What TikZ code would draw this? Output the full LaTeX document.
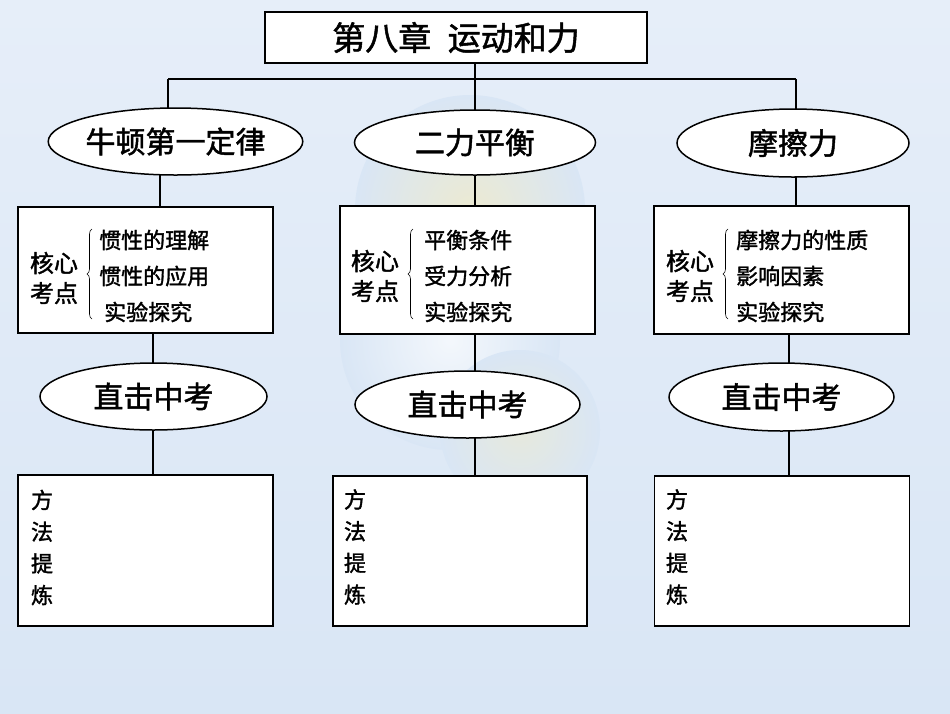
\documentclass[tikz,border=0pt]{standalone}
\usepackage{fontspec}
\setmainfont{Noto Sans CJK SC}[AutoFakeBold=1.5]
\usetikzlibrary{shapes.geometric,decorations.pathreplacing}
\definecolor{bgblue}{HTML}{D9E6F5}
\definecolor{bglight}{HTML}{E6EEF9}
\definecolor{flower}{HTML}{ECEAD2}
\pgfdeclarelayer{bg}
\pgfdeclarelayer{lines}
\pgfsetlayers{bg,lines,main}
\begin{document}
\begin{tikzpicture}[x=1pt,y=-1pt,
  box/.style={draw=black,fill=white,line width=1.5pt,rectangle,inner sep=0pt},
  oval/.style={draw=black,fill=white,line width=1.5pt,ellipse,inner sep=0pt,font=\fontsize{30}{30}\selectfont\bfseries},
  conn/.style={draw=black,line width=1.5pt},
  keytxt/.style={align=center,inner sep=0pt,font=\fontsize{24}{30}\selectfont\bfseries},
  itemtxt/.style={anchor=west,inner sep=0pt,font=\fontsize{22}{22}\selectfont\bfseries},
  methtxt/.style={align=center,inner sep=0pt,font=\fontsize{22}{31.7}\selectfont\bfseries},
  bracestyle/.style={draw=black,line width=0.6pt,decorate,decoration={brace,amplitude=5pt}}
]
% background
\begin{pgfonlayer}{bg}
\shade[top color=bglight,bottom color=bgblue] (0,0) rectangle (950,713);
\shade[inner color=flower,outer color=bgblue] (470,210) circle (115);
\shade[inner color=white!70!bgblue,outer color=bgblue] (450,340) circle (110);
\shade[inner color=flower!70!bgblue,outer color=bgblue] (520,430) circle (80);
\end{pgfonlayer}

% nodes
\node[box,minimum width=382,minimum height=51,font=\fontsize{33}{33}\selectfont\bfseries] (title) at (456,37.5) {第八章\hspace{0.5em}运动和力};

\node[oval,minimum width=225,minimum height=67] (e1) at (175.5,141.5) {牛顿第一定律};
\node[oval,minimum width=241,minimum height=65] (e2) at (475,142.5) {二力平衡};
\node[oval,minimum width=232,minimum height=68] (e3) at (793,143) {摩擦力};

\node[box,minimum width=255,minimum height=126] (b1) at (145.5,270) {};
\node[box,minimum width=255,minimum height=128] (b2) at (467.5,270) {};
\node[box,minimum width=255,minimum height=128] (b3) at (781.5,270) {};

\node[oval,minimum width=227,minimum height=67] (f1) at (153.5,396.5) {直击中考};
\node[oval,minimum width=225,minimum height=67] (f2) at (467.5,404.5) {直击中考};
\node[oval,minimum width=225,minimum height=68] (f3) at (781.5,397) {直击中考};

\node[box,minimum width=255,minimum height=151] (g1) at (145.5,550.5) {};
\node[box,minimum width=254,minimum height=150] (g2) at (460,551) {};
\node[box,minimum width=255,minimum height=150] (g3) at (782,551) {};

% box 1 contents
\node[keytxt] (k1) at (54,278) {核心\\考点};
\node[itemtxt] (i11) at (99,240) {惯性的理解};
\node[itemtxt] (i12) at (99,276) {惯性的应用};
\node[itemtxt] (i13) at (104,312) {实验探究};
\draw[bracestyle] (92,319) -- (92,229);
% box 2 contents
\node[keytxt] (k2) at (375,276) {核心\\考点};
\node[itemtxt] (i21) at (424,240) {平衡条件};
\node[itemtxt] (i22) at (424,276) {受力分析};
\node[itemtxt] (i23) at (424,312) {实验探究};
\draw[bracestyle] (413,319) -- (413,229);
% box 3 contents
\node[keytxt] (k3) at (690,276) {核心\\考点};
\node[itemtxt] (i31) at (736,240) {摩擦力的性质};
\node[itemtxt] (i32) at (736,276) {影响因素};
\node[itemtxt] (i33) at (736,312) {实验探究};
\draw[bracestyle] (728,319) -- (728,229);

% method texts
\node[methtxt] (m1) at (42,547.5) {方\\法\\提\\炼};
\node[methtxt] (m2) at (355,547) {方\\法\\提\\炼};
\node[methtxt] (m3) at (677,547) {方\\法\\提\\炼};

% connectors
\coordinate (hl) at (168,79);
\coordinate (hr) at (796,79);
\coordinate (c1) at (160,0);
\coordinate (c2) at (153,0);
\coordinate (c3) at (789,0);
\begin{pgfonlayer}{lines}
\draw[conn] (hl) -- (hr);
\draw[conn] (e2.center |- title.south) -- (e2.center);
\draw[conn] (hl) -- (hl |- e1.center);
\draw[conn] (hr) -- (hr |- e3.center);
% column 1
\draw[conn] (c1 |- e1.center) -- (c1 |- b1.center);
\draw[conn] (c2 |- b1.center) -- (c2 |- f1.center);
\draw[conn] (c2 |- f1.center) -- (c2 |- g1.center);
% column 2
\draw[conn] (e2.center) -- (e2.center |- b2.center);
\draw[conn] (e2.center |- b2.center) -- (e2.center |- f2.center);
\draw[conn] (e2.center |- f2.center) -- (e2.center |- g2.center);
% column 3
\draw[conn] (hr |- e3.center) -- (hr |- b3.center);
\draw[conn] (c3 |- b3.center) -- (c3 |- f3.center);
\draw[conn] (c3 |- f3.center) -- (c3 |- g3.center);
\end{pgfonlayer}
\end{tikzpicture}
\end{document}
